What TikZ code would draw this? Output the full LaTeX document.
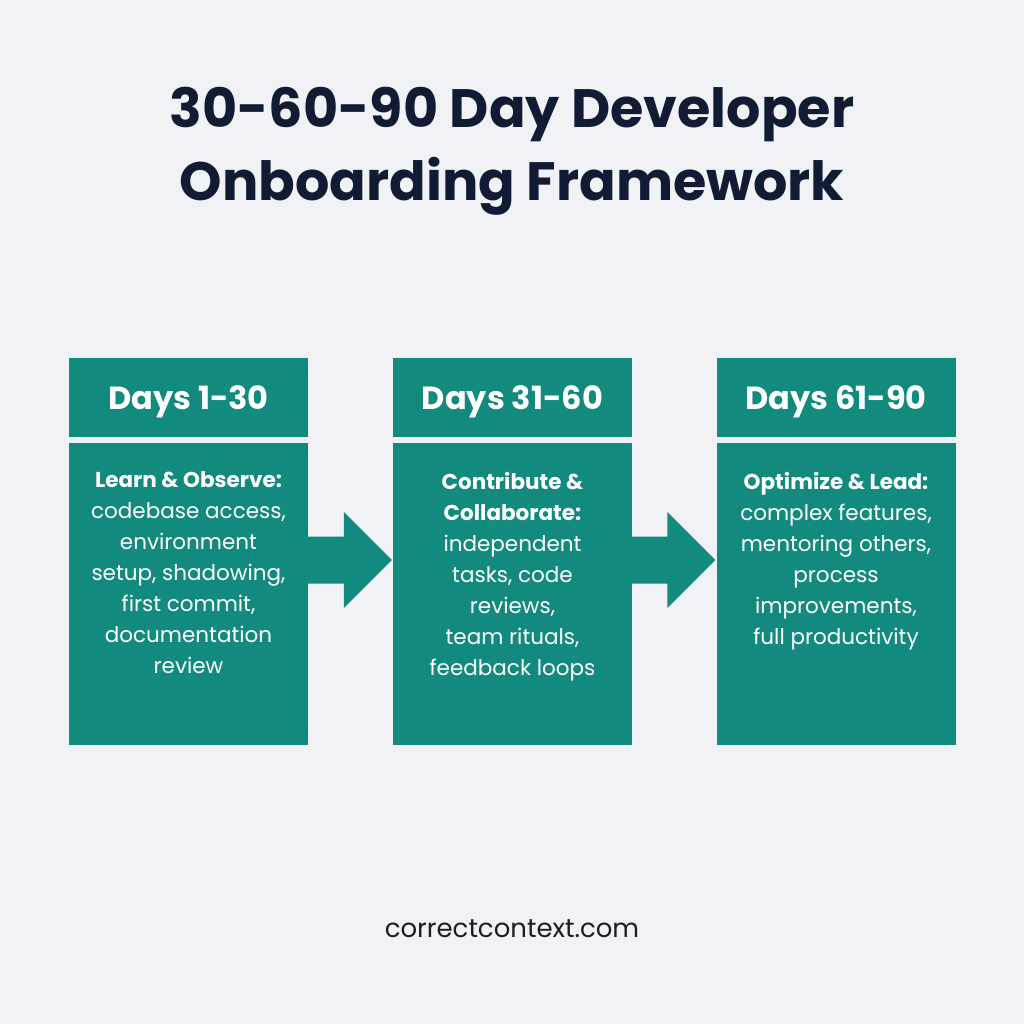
\documentclass[tikz,border=0pt]{standalone}
\usepackage{fontspec}
\setmainfont{Poppins}
\usetikzlibrary{calc}
\definecolor{bg}{HTML}{F0F2F5}
\definecolor{tealbox}{HTML}{128A7E}
\definecolor{navy}{HTML}{111B33}
\definecolor{foot}{HTML}{1C1C22}
\tikzset{
  hdr/.style={fill=tealbox, minimum width=239pt, minimum height=79pt, inner sep=0pt, text=white, font=\fontsize{32}{36}\selectfont\bfseries},
  bodybox/.style={fill=tealbox, minimum width=239pt, minimum height=302pt, inner sep=0pt},
  bodytext/.style={text=white, align=center, inner sep=0pt, anchor=north, font=\fontsize{21.5}{31}\selectfont},
  arrowfill/.style={fill=tealbox},
}
\begin{document}
\begin{tikzpicture}[x=1pt,y=-1pt]
\fill[bg] (0,0) rectangle (1024,1024);
\useasboundingbox (0,0) rectangle (1024,1024);
\node[text=navy, align=center, font=\fontsize{54}{73}\selectfont\bfseries] (title) at (512,151) {30-60-90 Day Developer\\Onboarding Framework};
\foreach \i/\x/\d in {1/188.5/Days 1-30, 2/512.5/Days 31-60, 3/836/Days 61-90}{
  \node[hdr] (h\i) at (\x,397.5) {};
  \node[text=white, font=\fontsize{32}{36}\selectfont\bfseries, inner sep=0pt] (hl\i) at ($(h\i.center)+(0,4)$) {\d};
  \node[bodybox] (b\i) at (\x,594) {};
}
\node[bodytext] (t1) at ($(b1.north)+(0,29)$) {\textbf{Learn \& Observe:}\\codebase access,\\environment\\setup, shadowing,\\first commit,\\documentation\\review};
\node[bodytext] (t2) at ($(b2.north)+(0,29)$) {\textbf{Contribute \&}\\\textbf{Collaborate:}\\independent\\tasks, code\\reviews,\\team rituals,\\feedback loops};
\node[bodytext] (t3) at ($(b3.north)+(0,29)$) {\textbf{Optimize \& Lead:}\\complex features,\\mentoring others,\\process\\improvements,\\full productivity};
\coordinate (al) at (0,560);
\foreach \a/\b in {b1/b2, b2/b3}{
  \fill[arrowfill] ($(\a.east|-al)+(-1,-23.5)$) -- ($(\b.west|-al)+(-49,-23.5)$) -- ($(\b.west|-al)+(-49,-48)$) -- ($(\b.west|-al)+(-1,0)$) -- ($(\b.west|-al)+(-49,48)$) -- ($(\b.west|-al)+(-49,23.5)$) -- ($(\a.east|-al)+(-1,23.5)$) -- cycle;
}
\node[text=foot, font=\fontsize{26}{29}\selectfont] (footer) at (512,929) {correctcontext.com};
\end{tikzpicture}
\end{document}
